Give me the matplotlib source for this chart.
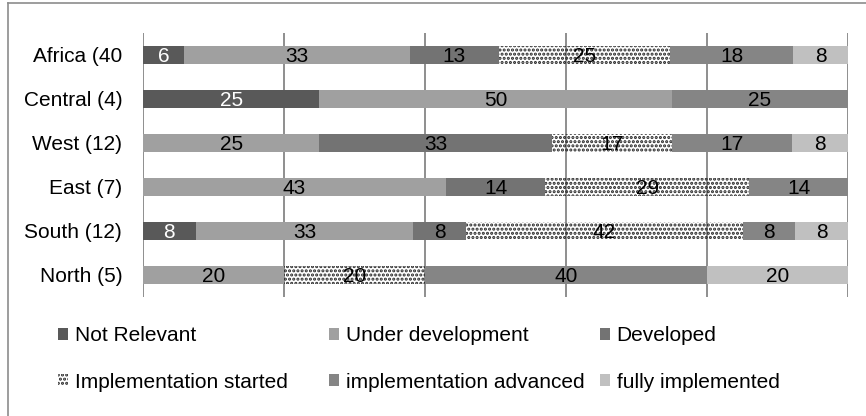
import numpy as np
import matplotlib.pyplot as plt
from matplotlib.lines import Line2D
from matplotlib.patches import Patch

plt.rcParams['font.family'] = ['Liberation Sans', 'DejaVu Sans']
plt.rcParams['hatch.linewidth'] = 1.5

# regions, top to bottom
regions = ['Africa (40', 'Central (4)', 'West (12)', 'East (7)', 'South (12)', 'North (5)']

# values per stage (labels as printed; bars are 100% stacked)
not_relevant = [6, 25, 0, 0, 8, 0]
under_dev = [33, 50, 25, 43, 33, 20]
developed = [13, 0, 33, 14, 8, 0]
impl_started = [25, 0, 17, 29, 42, 20]
impl_advanced = [18, 25, 17, 14, 8, 40]
fully_impl = [8, 0, 8, 0, 8, 20]

series_names = ['Not Relevant', 'Under development', 'Developed',
                'Implementation started', 'implementation advanced', 'fully implemented']
series = [not_relevant, under_dev, developed, impl_started, impl_advanced, fully_impl]
colors = ['#595959', '#a0a0a0', '#737373', 'none', '#858585', '#c0c0c0']
label_colors = ['white', 'black', 'black', 'black', 'black', 'black']

data = np.array(series, dtype=float)
share = data / data.sum(axis=0) * 100

fig = plt.figure(figsize=(8.66, 4.16), dpi=100)
ax = fig.add_axes([143 / 866, 1 - 297 / 416, 705 / 866, 264 / 416])

y = np.arange(len(regions))
left = np.zeros(len(regions))
handles = []
for i, name in enumerate(series_names):
    if colors[i] == 'none':
        ax.barh(y, share[i], left=left, height=0.4, facecolor='none',
                edgecolor='#262626', hatch='....', linewidth=0, zorder=2)
        handles.append(Patch(facecolor='none', edgecolor='#262626', hatch='....', linewidth=0))
    else:
        ax.barh(y, share[i], left=left, height=0.4, color=colors[i],
                linewidth=0, zorder=2)
        handles.append(Patch(facecolor=colors[i], linewidth=0))
    for j, v in enumerate(data[i]):
        if v > 0:
            ax.text(left[j] + share[i][j] / 2, y[j] + 0.03, f'{int(v)}',
                    ha='center', va='center', fontsize=15,
                    color=label_colors[i], zorder=3)
    left += share[i]

ax.set_xlim(0, 100)
ax.set_ylim(len(regions) - 0.5, -0.5)
ax.set_xticks(np.arange(0, 101, 20))
ax.set_xticklabels([])
ax.set_yticks(y)
ax.set_yticklabels(regions, fontsize=15)
ax.tick_params(axis='both', length=0)
ax.tick_params(axis='y', pad=15)
ax.grid(axis='x', color='#868686', linewidth=1.3, zorder=0)
ax.set_axisbelow(True)
for s in ax.spines.values():
    s.set_visible(False)

# legend: three columns, two rows each
col_x = [58 / 866, 329 / 866, 600 / 866]
for c in range(3):
    hs = [handles[c], handles[c + 3]]
    ls = [series_names[c], series_names[c + 3]]
    fig.legend(hs, ls, loc='upper left', bbox_to_anchor=(col_x[c], 1 - 326 / 416),
               frameon=False, fontsize=15, handlelength=0.5, handleheight=0.5,
               handletextpad=0.3, labelspacing=1.33, borderpad=0, borderaxespad=0)

# outer frame (only left and top visible)
x0, y0 = 8 / 866, 1 - 2.5 / 416
fig.add_artist(Line2D([x0, x0], [0, y0], color='#8c8c8c', linewidth=1.2))
fig.add_artist(Line2D([x0, 1], [y0, y0], color='#8c8c8c', linewidth=1.2))

plt.savefig('out.png', dpi=100)
